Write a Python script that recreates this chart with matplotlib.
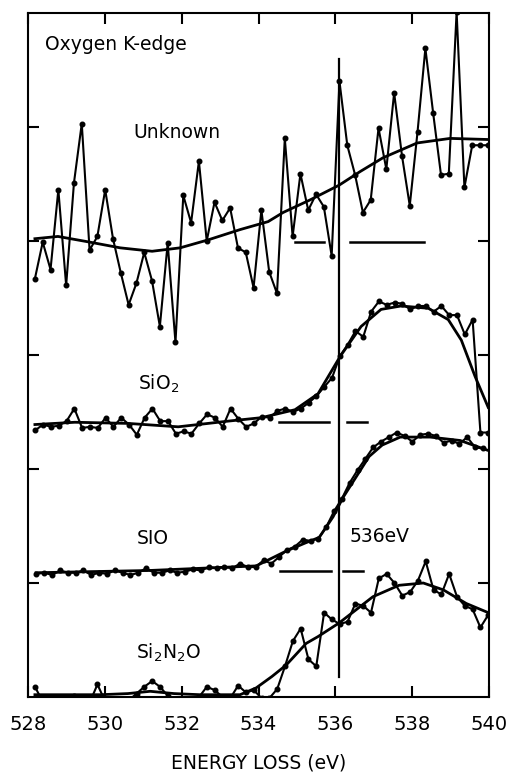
import numpy as np
from matplotlib import pyplot as plt

# energy grids (eV) for each measured spectrum
e_unknown = np.linspace(528.18, 539.97, 59)
e_sio2 = np.linspace(528.19, 539.98, 59)
e_sio = np.linspace(528.22, 539.84, 58)
e_si2n2o = np.linspace(528.18, 539.98, 59)

# measured counts (offset, arbitrary units)
unknown = [3.67, 3.99, 3.75, 4.45, 3.61, 4.51, 5.03, 3.92, 4.04, 4.45,
           4.02, 3.72, 3.44, 3.63, 3.90, 3.65, 3.25, 3.98, 3.11, 4.40,
           4.16, 4.70, 4.00, 4.34, 4.18, 4.29, 3.94, 3.90, 3.59, 4.27,
           3.73, 3.54, 4.90, 4.04, 4.59, 4.27, 4.41, 4.30, 3.87, 5.40,
           4.84, 4.58, 4.25, 4.36, 4.99, 4.63, 5.30, 4.75, 4.31, 4.96,
           5.69, 5.12, 4.58, 4.59, 6.01, 4.47, 4.84, 4.84, 4.84]
sio2 = [2.34, 2.39, 2.37, 2.38, 2.42, 2.53, 2.36, 2.37, 2.36, 2.45,
        2.37, 2.45, 2.39, 2.30, 2.45, 2.53, 2.42, 2.42, 2.31, 2.33,
        2.31, 2.40, 2.48, 2.45, 2.37, 2.53, 2.44, 2.37, 2.40, 2.46,
        2.45, 2.51, 2.53, 2.50, 2.53, 2.58, 2.64, 2.72, 2.80, 2.99,
        3.09, 3.21, 3.16, 3.38, 3.47, 3.44, 3.46, 3.45, 3.40, 3.43,
        3.43, 3.38, 3.43, 3.35, 3.35, 3.18, 3.31, 2.32, 2.32]
sio = [1.08, 1.09, 1.07, 1.11, 1.09, 1.09, 1.11, 1.07, 1.09, 1.08,
       1.11, 1.09, 1.07, 1.09, 1.13, 1.09, 1.09, 1.11, 1.09, 1.10,
       1.12, 1.11, 1.14, 1.13, 1.14, 1.13, 1.17, 1.14, 1.14, 1.20,
       1.17, 1.23, 1.29, 1.32, 1.38, 1.37, 1.39, 1.49, 1.63, 1.74,
       1.88, 1.99, 2.09, 2.19, 2.24, 2.28, 2.32, 2.29, 2.24, 2.30,
       2.31, 2.29, 2.23, 2.25, 2.22, 2.28, 2.19, 2.18]
si2n2o = [0.09, -0.04, -0.06, -0.04, -0.03, 0.01, -0.04, -0.05, 0.11, -0.04,
          -0.06, -0.04, -0.03, 0.03, 0.09, 0.14, 0.09, 0.01, -0.04, -0.06,
          -0.04, 0.00, 0.09, 0.06, 0.00, -0.01, 0.10, 0.04, 0.06, -0.01,
          -0.01, 0.07, 0.27, 0.49, 0.60, 0.33, 0.27, 0.74, 0.68, 0.64,
          0.66, 0.82, 0.80, 0.74, 1.04, 1.08, 1.00, 0.89, 0.92, 1.02,
          1.19, 0.94, 0.90, 1.08, 0.88, 0.80, 0.77, 0.61, 0.72]

# smoothed fits
unknown_fit_x = [528.18, 528.78, 529.61, 530.40, 531.23, 531.96, 532.69, 533.52, 534.25,
                 534.64, 535.34, 536.10, 536.65, 537.24, 538.13, 538.99, 540.0]
unknown_fit_y = [4.02, 4.04, 3.99, 3.94, 3.91, 3.94, 4.01, 4.10, 4.17,
                 4.25, 4.36, 4.49, 4.61, 4.73, 4.86, 4.90, 4.89]
sio2_fit_x = [528.18, 529.22, 530.60, 531.91, 533.21, 534.07, 534.95, 535.55, 536.13,
              536.67, 537.19, 537.71, 538.42, 538.94, 539.28, 539.64, 539.98]
sio2_fit_y = [2.39, 2.41, 2.40, 2.37, 2.42, 2.45, 2.52, 2.66, 2.99,
              3.25, 3.40, 3.43, 3.41, 3.31, 3.13, 2.81, 2.54]
sio_fit_x = [528.21, 531.18, 533.26, 533.94, 534.72, 535.21, 535.58, 535.94,
             536.20, 536.54, 536.88, 537.22, 537.69, 538.47, 539.25, 540.0]
sio_fit_y = [1.09, 1.11, 1.14, 1.15, 1.28, 1.35, 1.40, 1.58,
             1.75, 1.93, 2.11, 2.21, 2.28, 2.28, 2.25, 2.16]
si2n2o_fit_x = [528.18, 529.88, 530.6, 531.18, 531.8, 532.48, 533.52, 533.94, 534.35,
                534.72, 535.24, 535.55, 536.10, 536.98, 537.66, 538.29, 538.81, 539.41, 539.98]
si2n2o_fit_y = [0.02, 0.02, 0.03, 0.05, 0.03, 0.02, 0.02, 0.08, 0.18,
                0.28, 0.47, 0.53, 0.65, 0.88, 0.98, 1.00, 0.94, 0.82, 0.74]

# short horizontal marker bars (x0, x1, y)
bars = [(534.95, 535.71, 3.99), (536.39, 538.31, 3.99),
        (534.54, 535.84, 2.41), (536.31, 536.83, 2.41),
        (534.56, 535.89, 1.105), (536.20, 536.72, 1.105)]

xticks = [528, 530, 532, 534, 536, 538, 540]

fig = plt.figure(figsize=(5.12, 7.75), dpi=100)
ax = fig.add_axes([28/512, 1-697/775, 461/512, 684/775])

for e, y, fx, fy in [(e_unknown, unknown, unknown_fit_x, unknown_fit_y),
                     (e_sio2, sio2, sio2_fit_x, sio2_fit_y),
                     (e_sio, sio, sio_fit_x, sio_fit_y),
                     (e_si2n2o, si2n2o, si2n2o_fit_x, si2n2o_fit_y)]:
    ax.plot(e, y, 'k-', marker='o', ms=3.3, lw=1.5)
    ax.plot(fx, fy, 'k-', lw=2)

for x0, x1, y in bars:
    ax.plot([x0, x1], [y, y], 'k-', lw=1.8)

ax.plot([536.1, 536.1], [0.175, 5.6], 'k-', lw=1.6)

ax.text(528.44, 5.72, "Oxygen K-edge", fontsize=13.5, va='center')
ax.text(530.73, 4.95, "Unknown", fontsize=13.5, va='center')
ax.text(530.86, 2.75, "SiO$_2$", fontsize=13.5, va='center')
ax.text(530.84, 1.39, "SIO", fontsize=13.5, va='center')
ax.text(530.81, 0.39, "Si$_2$N$_2$O", fontsize=13.5, va='center')
ax.text(536.36, 1.41, "536eV", fontsize=13.5, va='center')

ax.set_xlim(528, 540)
ax.set_ylim(0, 6)
ax.set_xticks(xticks)
ax.set_yticks([1, 2, 3, 4, 5])
ax.set_yticklabels([])
ax.tick_params(direction='in', length=8, width=1.5, top=True, right=True, labelsize=14, pad=13)
ax.set_xlabel("ENERGY LOSS (eV)", fontsize=13.5, labelpad=14)
for s in ax.spines.values():
    s.set_linewidth(1.5)

plt.savefig('out.png', dpi=100)
